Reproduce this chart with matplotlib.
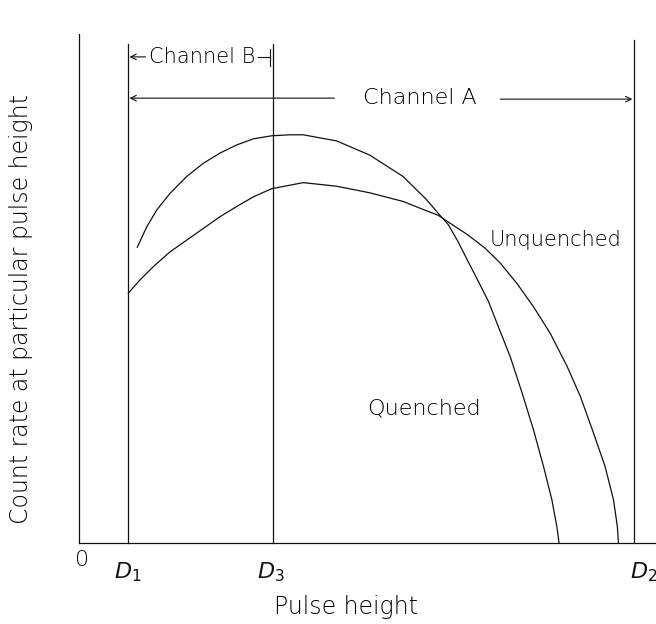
import matplotlib.pyplot as plt
import numpy as np

# pulse height scale: 0 at origin, D2 = 100
d1, d3, d2 = 8.8, 35.0, 100.0
marker_names = [r'$D_1$', r'$D_3$', r'$D_2$']

# quenched spectrum (taller peak, drops off earlier)
quench_x = [10.5, 12.2, 14.0, 16.4, 19.4, 22.4, 25.4, 28.4, 31.4, 34.7,
            38.0, 40.4, 46.4, 52.4, 58.4, 62.5, 64.7, 66.5, 68.3, 70.1,
            72.0, 73.8, 75.3, 77.7, 79.8, 81.9, 83.7, 85.2, 86.1, 86.5]
quench_y = [58.1, 62.1, 65.4, 68.7, 72.0, 74.6, 76.6, 78.2, 79.4, 80.0,
            80.2, 80.2, 79.0, 76.2, 72.0, 67.6, 64.8, 62.6, 59.2, 55.3,
            51.3, 47.4, 43.2, 36.6, 29.6, 22.2, 15.0, 8.5, 3.2, 0.0]

# unquenched spectrum
unq_x = [8.9, 11.0, 13.4, 16.4, 19.4, 22.4, 25.4, 28.4, 31.4, 34.7,
         38.0, 40.4, 46.4, 52.4, 58.4, 62.3, 64.7, 66.9, 70.1, 73.2,
         75.9, 78.9, 81.9, 84.9, 87.9, 90.3, 92.7, 94.8, 96.3, 97.0, 97.2]
unq_y = [49.1, 51.7, 54.3, 57.2, 59.5, 61.8, 64.1, 66.1, 68.0, 69.6,
         70.3, 70.8, 70.1, 68.8, 67.1, 65.4, 64.4, 62.8, 60.5, 57.9,
         55.0, 51.0, 46.4, 41.2, 34.8, 28.9, 21.6, 15.0, 8.5, 3.2, 0.0]

ink = '#111111'
lw = 0.9

fig = plt.figure(figsize=(6.56, 6.24), dpi=100)
ax = fig.add_axes([0, 0, 1, 1])
ax.set_xlim(-14.23, 103.96)
ax.set_ylim(-15.91, 106.68)
ax.axis('off')

# axes drawn by hand, like the printed figure
ax.plot([0, 0], [0, 100], color=ink, lw=lw)
ax.plot([0, 104], [0, 0], color=ink, lw=lw)

# discriminator levels
ax.plot([d1, d1], [0, 98.0], color=ink, lw=lw)
ax.plot([d3, d3], [0, 98.0], color=ink, lw=lw)
ax.plot([d2, d2], [0, 98.8], color=ink, lw=lw)

ax.plot(quench_x, quench_y, color=ink, lw=lw, solid_joinstyle='round')
ax.plot(unq_x, unq_y, color=ink, lw=lw, solid_joinstyle='round')

txt = dict(color='black', fontweight='light')
arrow = dict(arrowstyle='->', color=ink, lw=0.8, shrinkA=0, shrinkB=0)

# channel B window
ax.annotate('', xy=(d1 + 0.3, 95.5), xytext=(12.0, 95.5), arrowprops=arrow)
ax.text(22.1, 95.5, 'Channel B', ha='center', va='center', fontsize=15, **txt)
ax.plot([32.3, 34.4], [95.5, 95.5], color=ink, lw=0.8)
ax.plot([34.4, 34.4], [93.7, 97.0], color=ink, lw=0.8)

# channel A window
ax.annotate('', xy=(d1 + 0.3, 87.4), xytext=(46.0, 87.4), arrowprops=arrow)
ax.annotate('', xy=(d2 - 0.3, 87.2), xytext=(75.9, 87.2), arrowprops=arrow)
ax.text(61.4, 87.4, 'Channel A', ha='center', va='center', fontsize=16, **txt)

ax.text(73.9, 59.5, 'Unquenched', ha='left', va='center', fontsize=15, **txt)
ax.text(51.9, 26.5, 'Quenched', ha='left', va='center', fontsize=16, **txt)

# tick labels along the pulse height axis
ax.text(0.5, -3.3, '0', ha='center', va='center', fontsize=16, **txt)
label_shift = {r'$D_1$': -2.5, r'$D_3$': -2.9, r'$D_2$': -0.7}
for xv, name in zip([d1, d3, d2], marker_names):
    ax.text(xv + label_shift[name], -5.8, name, ha='left', va='center',
            fontsize=16, color=ink)

fig.text(346 / 656, 1 - 607 / 624, 'Pulse height', ha='center', va='center',
         fontsize=17, **txt)
fig.text(21 / 656, 1 - 309 / 624, 'Count rate at particular pulse height',
         ha='center', va='center', rotation=90, fontsize=17, **txt)

fig.savefig('out.png', dpi=100, facecolor='white')
